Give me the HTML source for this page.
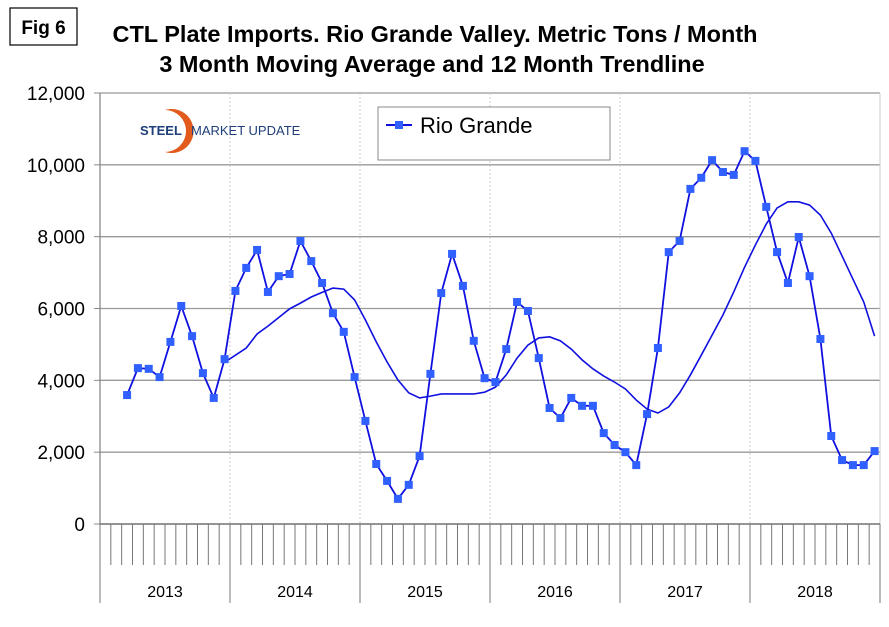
<!DOCTYPE html>
<html><head><meta charset="utf-8"><style>
body{margin:0;background:#fff;width:889px;height:622px;overflow:hidden;font-family:"Liberation Sans",sans-serif}
</style></head><body>
<svg id="c" width="889" height="622" xmlns="http://www.w3.org/2000/svg" font-family="Liberation Sans, sans-serif">
<rect x="0" y="0" width="889" height="622" fill="#fff"/>
<rect x="10" y="8" width="67" height="37" fill="none" stroke="#000" stroke-width="1.2"/>
<text x="43.5" y="34" font-size="19" font-weight="bold" text-anchor="middle">Fig 6</text>
<text x="435" y="42" font-size="23.5" font-weight="bold" text-anchor="middle">CTL Plate Imports. Rio Grande Valley. Metric Tons / Month</text>
<text x="432" y="72" font-size="23.5" font-weight="bold" text-anchor="middle">3 Month Moving Average and 12 Month Trendline</text>
<g id="grid"></g>
<g>
<path d="M165,110 A22,22 0 1 1 165,152 A18,18 0 1 0 165,110 Z" fill="#e25a1c"/>
<text x="140" y="135" font-size="13" font-weight="bold" fill="#1f3f7a">STEEL</text>
<text x="191" y="135" font-size="13" fill="#1f3f7a">MARKET UPDATE</text>
</g>
<g>
<rect x="378" y="107" width="232" height="53" fill="#fff" stroke="#888"/>
<line x1="386" y1="125" x2="412" y2="125" stroke="#1010e0" stroke-width="2"/>
<rect x="395" y="121" width="8" height="8" fill="#3060ff"/>
<text x="420" y="133" font-size="22">Rio Grande</text>
</g>
<g id="series"></g>
</svg>
<script>
const years=["2013","2014","2015","2016","2017","2018"];
const yTicks=[0,2000,4000,6000,8000,10000,12000];
const yTickLabels=["0","2,000","4,000","6,000","8,000","10,000","12,000"];
const startMonth=2; // March 2013
const avg3=[3590,4340,4320,4090,5070,6070,5230,4200,3510,4590,6490,7130,7630,6460,6900,6960,7880,7320,6710,5870,5350,4090,2870,1670,1200,700,1090,1890,4180,6430,7520,6630,5100,4060,3950,4870,6180,5930,4620,3230,2950,3510,3290,3290,2530,2200,2000,1640,3060,4900,7570,7880,9330,9640,10130,9800,9720,10380,10110,8830,7570,6710,7990,6900,5150,2450,1780,1640,1640,2030];
const trendStart=9;
const trend=[4500,4700,4900,5290,5510,5750,5990,6150,6320,6450,6570,6540,6240,5680,5070,4510,4010,3650,3510,3560,3620,3620,3620,3620,3670,3810,4150,4620,4980,5180,5210,5100,4870,4570,4320,4120,3950,3760,3450,3200,3090,3260,3650,4150,4700,5260,5820,6460,7150,7770,8350,8800,8970,8970,8880,8600,8100,7460,6820,6180,5230];
const X0=100,X1=880,Y0=524,Y1=93,NM=72;
const xs=i=>X0+(i+0.5)*(X1-X0)/NM;
const ys=v=>Y0-(v/12000)*(Y0-Y1);
const NS="http://www.w3.org/2000/svg";
const g=document.getElementById('grid'),s=document.getElementById('series');
function mk(p,tag,a){const e=document.createElementNS(NS,tag);for(const k in a)e.setAttribute(k,a[k]);p.appendChild(e);return e;}
yTicks.forEach((v,i)=>{
 if(v>0){const l=mk(g,'line',{x1:X0,x2:X1,y1:ys(v),y2:ys(v),stroke:'#999','stroke-width':1.3});
 
 }
 mk(g,'line',{x1:X0-6,x2:X0,y1:ys(v),y2:ys(v),stroke:'#888'});
 const t=mk(g,'text',{x:85,y:ys(v)+7,'font-size':19,'text-anchor':'end'});t.textContent=yTickLabels[i];
 
 
});
for(let y=1;y<years.length;y++){const x=X0+y*12*(X1-X0)/NM;
 mk(g,'line',{x1:x,x2:x,y1:Y1,y2:Y0,stroke:'#ccc','stroke-dasharray':'2,2'});}
mk(g,'line',{x1:X0,x2:X0,y1:Y1,y2:Y0,stroke:'#888','stroke-width':1.3});
mk(g,'line',{x1:X1,x2:X1,y1:Y1,y2:Y0,stroke:'#ccc'});
mk(g,'line',{x1:X0,x2:X1,y1:Y0,y2:Y0,stroke:'#555','stroke-width':1.3});
for(let m=0;m<=NM;m++){const x=X0+m*(X1-X0)/NM;const yr=m%12==0;
 mk(g,'line',{x1:x,x2:x,y1:Y0,y2:yr?603:565,stroke:'#777'});}
years.forEach((yv,i)=>{const t=mk(g,'text',{x:X0+(i*12+6)*(X1-X0)/NM,y:597,'font-size':16,'text-anchor':'middle'});t.textContent=yv;
 
 });
const tp=mk(s,'polyline',{points:trend.map((v,i)=>xs(startMonth+trendStart+i)+','+ys(v)).join(' '),fill:'none',stroke:'#1010e0','stroke-width':1.6});


const ap=mk(s,'polyline',{points:avg3.map((v,i)=>xs(startMonth+i)+','+ys(v)).join(' '),fill:'none',stroke:'#1010e0','stroke-width':1.8});


avg3.forEach((v,i)=>{const r=mk(s,'rect',{x:xs(startMonth+i)-4,y:ys(v)-4,width:8,height:8,fill:'#3060ff'});
 
 });
</script>
</body></html>
